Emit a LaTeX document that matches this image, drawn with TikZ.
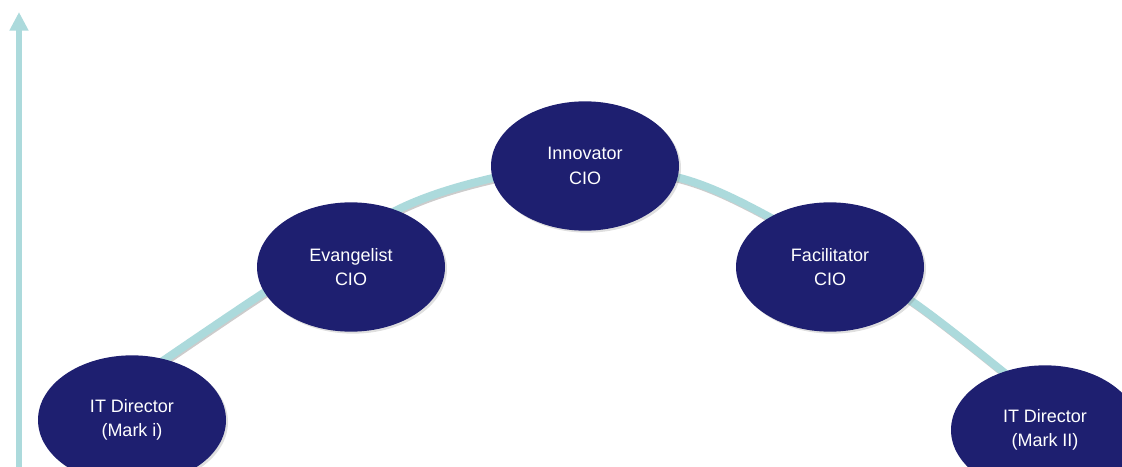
\documentclass[tikz,border=0pt]{standalone}
\usepackage{fontspec}
\setmainfont{Liberation Sans}
\usetikzlibrary{shapes.geometric, arrows.meta, shadows}
\definecolor{rolenavy}{RGB}{30,31,112}
\definecolor{paleteal}{RGB}{172,218,220}

\begin{document}
\begin{tikzpicture}[x=0.75pt, y=-0.75pt,
  role/.style={ellipse, fill=rolenavy, text=white, minimum width=141pt, minimum height=97pt,
    inner sep=0pt, align=center, font=\fontsize{13.5}{18.5}\selectfont,
    drop shadow={opacity=0.25, shadow xshift=1.5pt, shadow yshift=-1.5pt}},
  careerline/.style={paleteal, line width=6pt, line cap=round}]

\useasboundingbox (0,0) rectangle (1122,467);
\clip (0,0) rectangle (1122,467);

%the axis
\draw [paleteal, line width=4.5pt, -{Triangle[width=13.5pt, length=14pt]}] (19,467) -- (19,12);

%the curve
\coordinate (c0) at (135,380);
\coordinate (c1) at (265,292);
\coordinate (c2) at (397,210);
\coordinate (c3) at (493,178);
\coordinate (c4) at (587,166);
\coordinate (c5) at (680,178);
\coordinate (c6) at (760,212);
\coordinate (c7) at (910,300);
\coordinate (c8) at (1040,402);
\draw [careerline, gray!40, transform canvas={shift={(0.8pt,-1.2pt)}}]
  plot [smooth] coordinates {(c0) (c1) (c2) (c3) (c4) (c5) (c6) (c7) (c8)};
\draw [careerline] plot [smooth] coordinates {(c0) (c1) (c2) (c3) (c4) (c5) (c6) (c7) (c8)};

%the roles
\node [role] (marki) at (132,420) {IT Director\\(Mark i)};
\node [role] (evangelist) at (351,267) {Evangelist\\CIO};
\node [role] (innovator) at (585,166) {Innovator\\CIO};
\node [role] (facilitator) at (830,267) {Facilitator\\CIO};
\node [role] (markii) at (1045,430) {IT Director\\(Mark II)};
\end{tikzpicture}
\end{document}
